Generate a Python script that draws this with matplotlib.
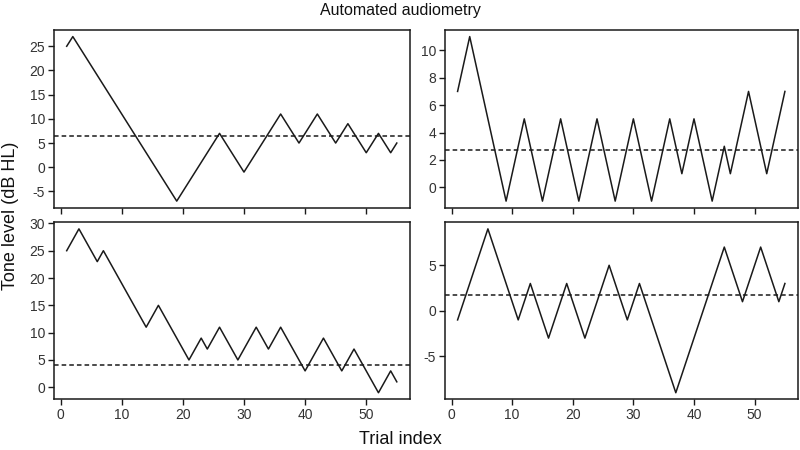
import matplotlib
matplotlib.use("Agg")
import matplotlib.pyplot as plt
import numpy as np

plt.rcParams['font.family'] = ['Liberation Sans', 'DejaVu Sans']
plt.rcParams['axes.unicode_minus'] = False

trials = list(range(1, 56))

# Top-left
tl_levels = [25, 27, 25, 23, 21, 19, 17, 15, 13, 11, 9, 7, 5, 3, 1, -1, -3, -5, -7,
             -5, -3, -1, 1, 3, 5, 7, 5, 3, 1, -1, 1, 3, 5, 7, 9, 11, 9, 7, 5,
             7, 9, 11, 9, 7, 5, 7, 9, 7, 5, 3, 5, 7, 5, 3, 5]
tl_threshold = 6.4

# Top-right
tr_levels = [7, 9, 11, 9, 7, 5, 3, 1, -1, 1, 3, 5, 3, 1, -1, 1, 3, 5, 3, 1, -1,
             1, 3, 5, 3, 1, -1, 1, 3, 5, 3, 1, -1, 1, 3, 5, 3, 1, 3, 5, 3, 1, -1,
             1, 3, 1, 3, 5, 7, 5, 3, 1, 3, 5, 7]
tr_threshold = 2.7

# Bottom-left
bl_levels = [25, 27, 29, 27, 25, 23, 25, 23, 21, 19, 17, 15, 13, 11, 13, 15, 13, 11,
             9, 7, 5, 7, 9, 7, 9, 11, 9, 7, 5, 7, 9, 11, 9, 7, 9, 11, 9, 7, 5, 3,
             5, 7, 9, 7, 5, 3, 5, 7, 5, 3, 1, -1, 1, 3, 1]
bl_threshold = 4.0

# Bottom-right
br_levels = [-1, 1, 3, 5, 7, 9, 7, 5, 3, 1, -1, 1, 3, 1, -1, -3, -1, 1, 3, 1, -1,
             -3, -1, 1, 3, 5, 3, 1, -1, 1, 3, 1, -1, -3, -5, -7, -9, -7, -5, -3,
             -1, 1, 3, 5, 7, 5, 3, 1, 3, 5, 7, 5, 3, 1, 3]
br_threshold = 1.7

title = "Automated audiometry"
xlabel = "Trial index"
ylabel = "Tone level (dB HL)"

fig = plt.figure(figsize=(8, 4.5), dpi=100)

L1, R1 = 53.5 / 800, 410 / 800
L2, R2 = 444.5 / 800, 798 / 800
T1, B1 = 1 - 30 / 450, 1 - 207.7 / 450
T2, B2 = 1 - 222.3 / 450, 1 - 399.3 / 450

panels = [
    (tl_levels, tl_threshold, [L1, B1, R1 - L1, T1 - B1], [-5, 0, 5, 10, 15, 20, 25], False),
    (tr_levels, tr_threshold, [L2, B1, R2 - L2, T1 - B1], [0, 2, 4, 6, 8, 10], False),
    (bl_levels, bl_threshold, [L1, B2, R1 - L1, T2 - B2], [0, 5, 10, 15, 20, 25, 30], True),
    (br_levels, br_threshold, [L2, B2, R2 - L2, T2 - B2], [-5, 0, 5], True),
]

col = "#1a1a1a"
for levels, thr, rect, yt, show_x in panels:
    ax = fig.add_axes(rect)
    ax.plot(trials, levels, color=col, lw=1.1)
    ax.axhline(thr, color=col, lw=1.1, ls=(0, (3, 2)))
    ax.set_xlim(1 - 0.04 * 54, 55 + 0.04 * 54)
    lo, hi = min(levels), max(levels)
    r = hi - lo
    ax.set_ylim(lo - 0.04 * r, hi + 0.04 * r)
    ax.set_xticks([0, 10, 20, 30, 40, 50])
    ax.set_yticks(yt)
    ax.tick_params(direction='out', length=4, width=1, colors=col,
                   labelsize=10, labelcolor='#333333', pad=2)
    if not show_x:
        ax.tick_params(axis='x', labelbottom=False)
    for s in ax.spines.values():
        s.set_color(col)
        s.set_linewidth(1.1)

fig.text(0.5, 1 - 11 / 450, title, ha='center', va='center', fontsize=11.5, color='#111111')
fig.text(0.5, 1 - 440 / 450, xlabel, ha='center', va='center', fontsize=13, color='#111111')
fig.text(11 / 800, 1 - 216 / 450, ylabel, ha='center', va='center', rotation=90, fontsize=13, color='#111111')

fig.savefig("out.png", dpi=100)
